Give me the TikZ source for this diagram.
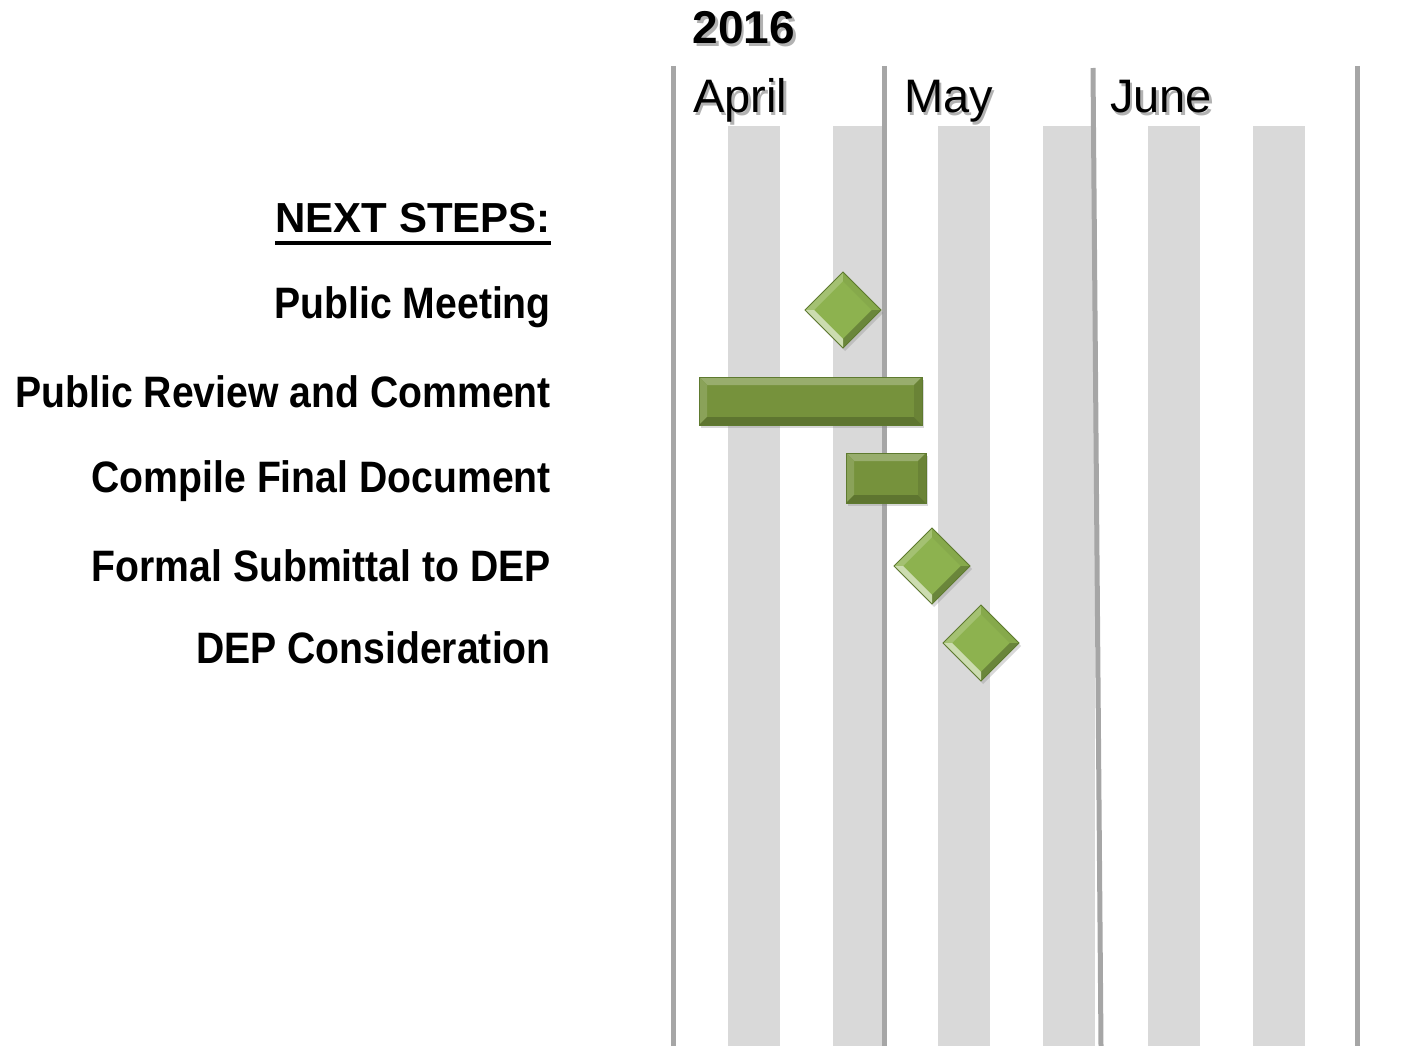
\documentclass[tikz,border=0pt]{standalone}
\usepackage{fontspec}
\setmainfont{Liberation Sans}
\newfontfamily\narrowsans[FakeStretch=0.89]{Liberation Sans}
\usepackage{tikz}
\usetikzlibrary{shapes.geometric,shadows,calc}

\definecolor{stripegray}{HTML}{D9D9D9}
\definecolor{linegray}{HTML}{A6A6A6}
\definecolor{msgreen}{HTML}{8DB24F}
\definecolor{barg}{HTML}{76923C}
\definecolor{edgeg}{HTML}{5E7A2F}

\newcommand\shadowed[1]{\makebox[0pt][l]{\kern2.5pt\raisebox{-2.5pt}{\color{gray!60}#1}}#1}

\begin{document}
\begin{tikzpicture}[x=1pt,y=-1pt,
	stripe/.style={fill=stripegray},
	monthline/.style={draw=linegray,line width=5pt},
	month/.style={anchor=base west,inner sep=0,font=\fontsize{47}{50}\selectfont},
	task/.style={anchor=base east,inner sep=0,font=\narrowsans\bfseries\fontsize{44}{48}\selectfont},
	milestone/.style={diamond,fill=msgreen,inner sep=0,outer sep=0,minimum width=76pt,minimum height=76pt,
		drop shadow={opacity=0.3,shadow xshift=2pt,shadow yshift=-3pt}},
	taskbar/.style={rectangle,fill=barg,inner sep=0,outer sep=0,
		drop shadow={opacity=0.3,shadow xshift=2pt,shadow yshift=-3pt}},
	edge/.style={draw=edgeg,line width=0.8pt}]

	\useasboundingbox (0,0) rectangle (1408,1046);

	% week stripes and month lines
	\foreach \x in {728,833,938,1043,1148,1253}
		\fill[stripe] (\x,126) rectangle ++(52,920);
	\draw[monthline] (673,66) -- (673,1046);
	\draw[monthline] (884,66) -- (884,1046);
	\draw[monthline] (1093,68) -- (1101,1046);
	\draw[monthline] (1357,66) -- (1357,1046);

	% header
	\node[anchor=base,inner sep=0,font=\bfseries\fontsize{46}{50}\selectfont] (year) at (744,44) {\shadowed{2016}};
	\node[month] (april) at (693,113) {\shadowed{April}};
	\node[month] (may) at (904,113) {\shadowed{May}};
	\node[month] (june) at (1110,113) {\shadowed{June}};

	% task labels
	\node[anchor=base east,inner sep=0,font=\bfseries\fontsize{42}{46}\selectfont] (steps) at (551,232) {NEXT STEPS:};
	\draw[line width=3.5pt] ([yshift=-11pt]steps.base west) -- ([yshift=-11pt]steps.base east);
	\node[task] (l1) at (551,318) {Public Meeting};
	\node[task] (l2) at (551,407) {Public Review and Comment};
	\node[task] (l3) at (551,492) {Compile Final Document};
	\node[task] (l4) at (551,581) {Formal Submittal to DEP};
	\node[task] (l5) at (551,663) {DEP Consideration};

	% bars
	\node[taskbar,minimum width=223pt,minimum height=48pt] (review) at (810.5,401) {};
	\node[taskbar,minimum width=80pt,minimum height=50pt] (compile) at (886,478) {};
	\foreach \b in {review,compile}{
		\fill[barg!75!white] (\b.north west) -- (\b.north east) -- ($(\b.north east)+(-8,8)$) -- ($(\b.north west)+(8,8)$) -- cycle;
		\fill[barg!85!white] (\b.north west) -- (\b.south west) -- ($(\b.south west)+(8,-8)$) -- ($(\b.north west)+(8,8)$) -- cycle;
		\fill[barg!80!black] (\b.south west) -- (\b.south east) -- ($(\b.south east)+(-8,-8)$) -- ($(\b.south west)+(8,-8)$) -- cycle;
		\fill[barg!90!black] (\b.north east) -- (\b.south east) -- ($(\b.south east)+(-8,-8)$) -- ($(\b.north east)+(-8,8)$) -- cycle;
		\draw[edge] (\b.north west) rectangle (\b.south east);
	}

	% milestones
	\node[milestone] (meet) at (843,310) {};
	\node[milestone] (submit) at (932,566) {};
	\node[milestone] (consider) at (981,643) {};
	\foreach \m in {meet,submit,consider}{
		\fill[msgreen!80!white] (\m.west) -- (\m.north) -- ($(\m.north)!.24!(\m.center)$) -- ($(\m.west)!.24!(\m.center)$) -- cycle;
		\fill[msgreen!95!black] (\m.north) -- (\m.east) -- ($(\m.east)!.24!(\m.center)$) -- ($(\m.north)!.24!(\m.center)$) -- cycle;
		\fill[msgreen!75!black] (\m.east) -- (\m.south) -- ($(\m.south)!.24!(\m.center)$) -- ($(\m.east)!.24!(\m.center)$) -- cycle;
		\fill[msgreen!45!white] (\m.south) -- (\m.west) -- ($(\m.west)!.24!(\m.center)$) -- ($(\m.south)!.24!(\m.center)$) -- cycle;
		\draw[edge] (\m.north) -- (\m.east) -- (\m.south) -- (\m.west) -- cycle;
	}

\end{tikzpicture}
\end{document}
